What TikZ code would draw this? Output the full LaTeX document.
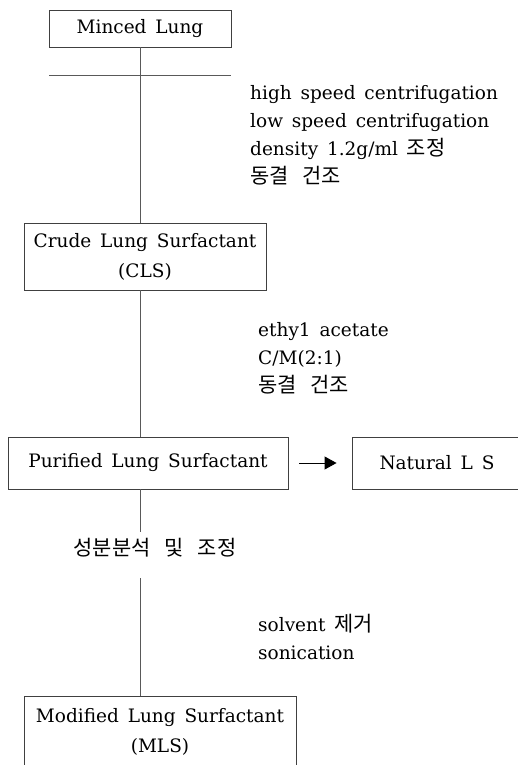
\documentclass[tikz,border=0pt]{standalone}
\usepackage{fontspec}
\setmainfont{DejaVu Serif}[WordSpace=1.5]
\newfontfamily\kr{Noto Sans CJK KR}[Scale=1.13, WordSpace=3]
\usetikzlibrary{arrows.meta}
\begin{document}
\begin{tikzpicture}[x=1pt,y=-1pt,
  box/.style={draw=black!75, line width=0.9pt, inner sep=0pt, align=center, font=\fontsize{18.5}{30}\selectfont},
  lbl/.style={anchor=west, align=left, inner sep=0pt, font=\fontsize{18.5}{28}\selectfont},
  link/.style={draw=black!65, line width=0.9pt}]
\useasboundingbox (0,0) rectangle (518,765);
% boxes
\node[box, minimum width=182pt, minimum height=37pt] (minced) at (140,28.5) {Minced Lung};
\node[box, minimum width=242pt, minimum height=67pt] (cls) at (145,256.5) {Crude Lung Surfactant\\(CLS)};
\node[box, minimum width=280pt, minimum height=52pt] (purified) at (148,463) {Purified Lung Surfactant};
\node[box, minimum width=170pt, minimum height=52pt] (natural) at (437,463) {Natural L S};
\node[box, minimum width=272pt, minimum height=72pt] (mls) at (160,732) {Modified Lung Surfactant\\(MLS)};
% horizontal bar
\coordinate (hL) at (49,75);
\coordinate (hR) at (231,75);
\draw[link] (hL) -- (hR);
% spine
\draw[link] (minced.south) -- (minced.south |- cls.north);
\draw[link] (minced.south |- cls.south) -- (minced.south |- purified.north);
\coordinate (s1) at (140,532);
\coordinate (s2) at (140,578);
\draw[link] (minced.south |- purified.south) -- (s1);
\draw[link] (s2) -- (minced.south |- mls.north);
% arrow
\draw[draw=black, line width=0.9pt, -{Triangle[length=12pt,width=13pt]}, shorten <=11pt, shorten >=15pt] (purified.east) -- (natural.west);
% labels
\node[lbl] (l1) at (250,135) {high speed centrifugation\\low speed centrifugation\\density 1.2g/ml {\kr 조정}\\{\kr 동결 건조}};
\node[lbl] (l2) at (258,358.5) {ethy1 acetate\\C/M(2:1)\\{\kr 동결 건조}};
\node[inner sep=0pt, font=\fontsize{18.5}{28}\selectfont\kr] (comp) at (155,548) {성분분석 및 조정};
\node[lbl] (l3) at (258,637) {solvent {\kr 제거}\\sonication};
\end{tikzpicture}
\end{document}
